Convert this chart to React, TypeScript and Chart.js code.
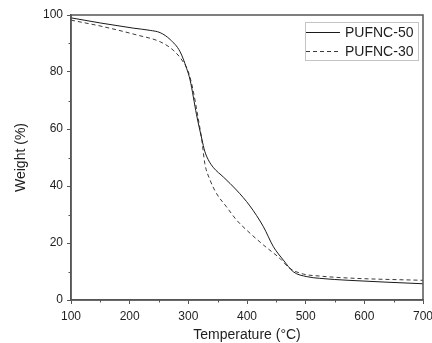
import React, { useEffect, useRef } from 'react';
import { Chart, registerables } from 'chart.js';

Chart.register(...registerables);

// PUFNC-50 (solid)
const tempA = [100, 150, 206, 235, 252, 269, 286, 297, 303, 314, 323, 328, 334, 343, 360, 382, 405, 428, 445, 462, 479, 502, 524, 574, 700];
const weightA = [99.0, 97.2, 95.4, 94.6, 93.8, 91.4, 87.1, 81.3, 77.2, 65.0, 56.5, 52.2, 49.2, 46.4, 43.1, 38.6, 33.0, 25.7, 18.7, 14.0, 9.9, 8.2, 7.6, 6.9, 5.7];

// PUFNC-30 (dashed)
const tempB = [100, 155, 212, 252, 274, 289, 300, 308, 317, 323, 328, 337, 348, 365, 382, 399, 428, 456, 473, 496, 524, 574, 700];
const weightB = [98.2, 95.9, 93.0, 90.6, 87.7, 84.2, 80.1, 73.7, 63.5, 56.1, 48.0, 42.1, 37.4, 32.7, 28.1, 24.6, 19.3, 14.6, 11.1, 9.1, 8.4, 7.7, 6.9];

const seriesLabels = ['PUFNC-50', 'PUFNC-30'];
const xTicks = [100, 200, 300, 400, 500, 600, 700];
const yTicks = [0, 20, 40, 60, 80, 100];
const xTitle = 'Temperature (°C)';
const yTitle = 'Weight (%)';

const FONT = '"Liberation Sans", Arial, sans-serif';
const AXIS = '#555';
const TEXT = '#1e1e1e';

const toPoints = (xs: number[], ys: number[]) => xs.map((x, i) => ({ x, y: ys[i] }));

const mids = (arr: number[]) => arr.slice(0, -1).map((v, i) => (v + arr[i + 1]) / 2);

const framePlugin = {
  id: 'frameAndLegend',
  afterDraw(chart: any) {
    const { ctx, chartArea: a, scales } = chart;
    const xs = scales.x;
    const ys = scales.y;
    ctx.save();
    // frame
    ctx.strokeStyle = AXIS;
    ctx.lineWidth = 1.5;
    ctx.strokeRect(a.left, a.top, a.right - a.left, a.bottom - a.top);
    // minor ticks
    ctx.lineWidth = 1;
    ctx.beginPath();
    for (const v of mids(xTicks)) {
      const px = Math.round(xs.getPixelForValue(v)) + 0.5;
      ctx.moveTo(px, a.bottom);
      ctx.lineTo(px, a.bottom + 2.5);
    }
    for (const v of mids(yTicks)) {
      const py = Math.round(ys.getPixelForValue(v)) + 0.5;
      ctx.moveTo(a.left, py);
      ctx.lineTo(a.left - 2.5, py);
    }
    ctx.stroke();

    // legend
    const boxW = 113;
    const boxH = 38;
    const bx = a.right - 5 - boxW;
    const by = a.top + 7;
    ctx.strokeStyle = '#c4c4c4';
    ctx.lineWidth = 1;
    ctx.strokeRect(Math.round(bx) + 0.5, Math.round(by) + 0.5, boxW, boxH);
    const rows = [by + 10, by + 28.5];
    chart.data.datasets.forEach((ds: any, i: number) => {
      const ry = Math.round(rows[i]) + 0.5;
      ctx.strokeStyle = ds.borderColor;
      ctx.lineWidth = ds.borderWidth;
      ctx.setLineDash(ds.borderDash || []);
      ctx.beginPath();
      ctx.moveTo(bx + 1, ry);
      ctx.lineTo(bx + 35, ry);
      ctx.stroke();
      ctx.setLineDash([]);
      ctx.fillStyle = TEXT;
      ctx.font = `14px ${FONT}`;
      ctx.textBaseline = 'middle';
      ctx.textAlign = 'left';
      ctx.fillText(ds.label, bx + 40, ry + 0.5);
    });
    ctx.restore();
  },
};

export default function App() {
  const ref = useRef<HTMLCanvasElement | null>(null);

  useEffect(() => {
    if (!ref.current) return;
    const chart = new Chart(ref.current, {
      type: 'line',
      data: {
        datasets: [
          {
            label: seriesLabels[0],
            data: toPoints(tempA, weightA),
            borderColor: '#1a1a1a',
            borderWidth: 1,
            pointRadius: 0,
            cubicInterpolationMode: 'monotone',
            fill: false,
          },
          {
            label: seriesLabels[1],
            data: toPoints(tempB, weightB),
            borderColor: '#3a3a3a',
            borderWidth: 1,
            borderDash: [4, 3],
            pointRadius: 0,
            cubicInterpolationMode: 'monotone',
            fill: false,
          },
        ],
      },
      options: {
        animation: false,
        responsive: true,
        maintainAspectRatio: false,
        layout: { padding: { left: 0, top: 15, right: 9, bottom: 0 } },
        plugins: {
          legend: { display: false },
          tooltip: { enabled: false },
        },
        scales: {
          x: {
            type: 'linear',
            min: xTicks[0],
            max: xTicks[xTicks.length - 1],
            afterBuildTicks: (s: any) => {
              s.ticks = xTicks.map((v) => ({ value: v }));
            },
            ticks: {
              font: { family: FONT, size: 12 },
              color: TEXT,
              padding: 5,
              maxRotation: 0,
              autoSkip: false,
            },
            grid: { drawOnChartArea: false, drawTicks: true, tickLength: 4, tickColor: AXIS, tickWidth: 1 },
            border: { color: AXIS, width: 1.5 },
            title: {
              display: true,
              text: xTitle,
              font: { family: FONT, size: 14 },
              color: TEXT,
              padding: { top: 0, bottom: -1 },
            },
            afterFit: (s: any) => {
              s.height = 43;
              s.paddingLeft = 0;
              s.paddingRight = 0;
            },
          },
          y: {
            type: 'linear',
            min: yTicks[0],
            max: yTicks[yTicks.length - 1],
            afterBuildTicks: (s: any) => {
              s.ticks = yTicks.map((v) => ({ value: v }));
            },
            ticks: {
              font: { family: FONT, size: 12 },
              color: TEXT,
              padding: 4,
            },
            grid: { drawOnChartArea: false, drawTicks: true, tickLength: 4, tickColor: AXIS, tickWidth: 1 },
            border: { color: AXIS, width: 1.5 },
            title: {
              display: true,
              text: yTitle,
              font: { family: FONT, size: 14 },
              color: TEXT,
              padding: { top: 12.5, bottom: 0 },
            },
            afterFit: (s: any) => {
              s.width = 71;
              s.paddingTop = 0;
              s.paddingBottom = 0;
            },
          },
        },
      },
      plugins: [framePlugin],
    } as any);
    return () => chart.destroy();
  }, []);

  return (
    <div style={{ position: 'absolute', left: 0, top: 0, width: 432, height: 343, background: '#fff' }}>
      <canvas ref={ref} />
    </div>
  );
}
